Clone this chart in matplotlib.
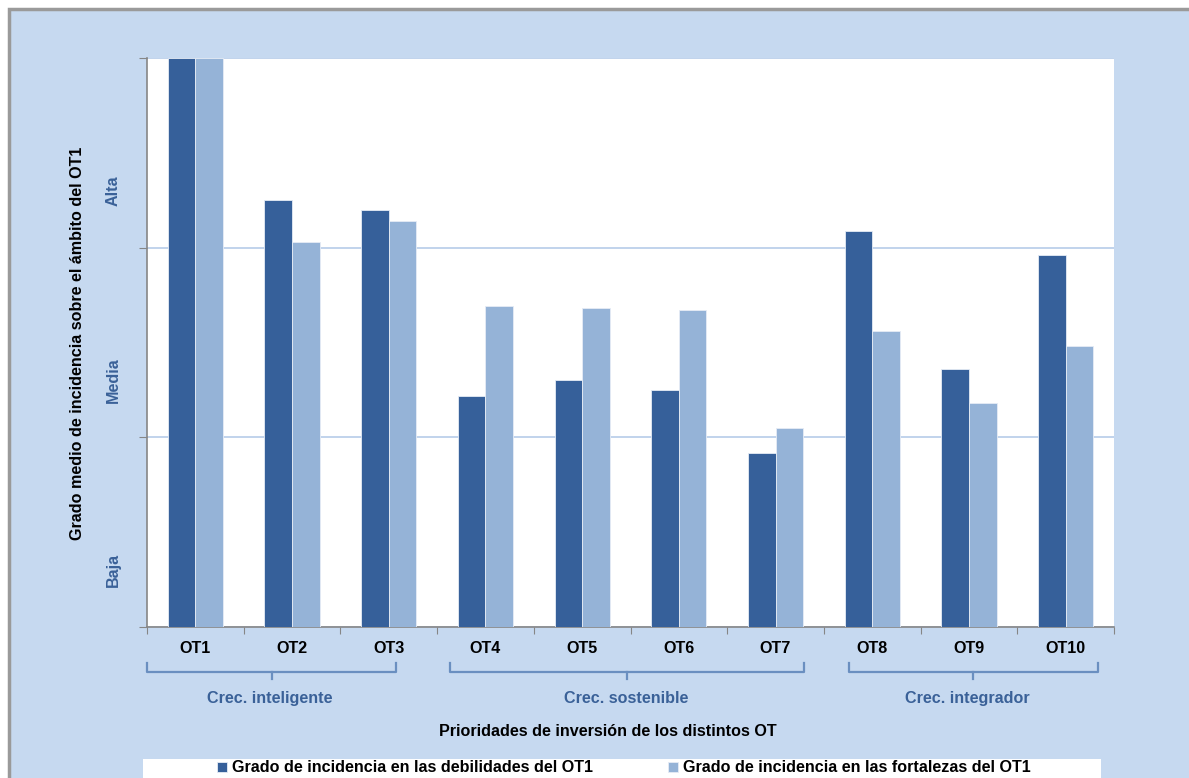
import matplotlib.pyplot as plt
import matplotlib.transforms as mtransforms
from matplotlib.patches import Rectangle
import numpy as np

plt.rcParams['font.family'] = ['Liberation Sans', 'DejaVu Sans']
plt.rcParams['font.weight'] = 'bold'

# datos
categorias = ['OT1', 'OT2', 'OT3', 'OT4', 'OT5', 'OT6', 'OT7', 'OT8', 'OT9', 'OT10']
debilidades = [3.00, 2.25, 2.20, 1.22, 1.30, 1.25, 0.92, 2.09, 1.36, 1.96]
fortalezas = [3.00, 2.03, 2.14, 1.69, 1.68, 1.67, 1.05, 1.56, 1.18, 1.48]
niveles = ['Baja', 'Media', 'Alta']
grupos = ['Crec. inteligente', 'Crec. sostenible', 'Crec. integrador']
serie_nombres = ['Grado de incidencia en las debilidades del OT1',
                 'Grado de incidencia en las fortalezas del OT1']

oscuro = '#36609A'
claro = '#95B3D7'
fondo = '#C6D9F0'
azul_txt = '#3A6198'
fs = 11.6

W, H = 1189, 778
fig = plt.figure(figsize=(W / 100, H / 100), dpi=100, facecolor='white')

# fondo del grafico con borde gris
fig.patches.append(Rectangle((9 / W, -0.1), 1.2, 1.1 - 9 / H, transform=fig.transFigure,
                             facecolor=fondo, edgecolor='#9A9A9A', lw=2.5, zorder=-2))
# caja blanca de la leyenda
fig.patches.append(Rectangle((143 / W, -0.05), (1101 - 143) / W, 0.05 + 1 - 759 / H,
                             transform=fig.transFigure, facecolor='white',
                             edgecolor='none', zorder=-1))

ax = fig.add_axes([147 / W, 1 - 627 / H, (1114 - 147) / W, (627 - 58) / H])
ax.set_zorder(1)
ax.set_facecolor('white')

x = np.arange(len(categorias))
bw = 0.285
ax.bar(x - bw / 2, debilidades, bw, color=oscuro, edgecolor='#E6ECF5', lw=0.6,
       label=serie_nombres[0], zorder=3)
ax.bar(x + bw / 2, fortalezas, bw, color=claro, edgecolor='#E6ECF5', lw=0.6,
       label=serie_nombres[1], zorder=3)

ax.set_xlim(-0.5, len(categorias) - 0.5)
ax.set_ylim(0, 3)

# eje y: marcas en 0..3, etiquetas cualitativas entre ellas
ax.set_yticks([0, 1, 2, 3])
ax.set_yticklabels([])
ax.set_yticks([0.3, 1.3, 2.3], minor=True)
ax.set_yticklabels(niveles, minor=True, rotation=90, va='center', fontsize=fs,
                   color=azul_txt, fontweight='bold')
ax.tick_params(axis='y', which='major', length=6, color='#868686', direction='out')
ax.tick_params(axis='y', which='minor', length=0, pad=19)
ax.grid(axis='y', which='major', color='#BCD0EA', lw=1.3, zorder=0)

# eje x
ax.set_xticks(np.arange(-0.5, len(categorias), 1.0))
ax.set_xticklabels([])
ax.set_xticks(x, minor=True)
ax.set_xticklabels(categorias, minor=True, fontsize=fs, fontweight='bold')
ax.tick_params(axis='x', which='major', length=5, color='#868686', direction='out')
ax.tick_params(axis='x', which='minor', length=0, pad=10)

for s in ['top', 'right']:
    ax.spines[s].set_visible(False)
for s in ['left', 'bottom']:
    ax.spines[s].set_color('#868686')
    ax.spines[s].set_linewidth(1.2)

# llaves de agrupacion
trans = mtransforms.blended_transform_factory(ax.transData, ax.transAxes)
llaves = [(-0.5, 2.08, 0.79), (2.63, 6.29, 4.46), (6.76, 9.33, 8.04)]
etq_x = [0.77, 4.46, 7.98]
y_top, y_mid, y_bot = -0.063, -0.079, -0.091
for (a, b, c), nombre, tx in zip(llaves, grupos, etq_x):
    ax.plot([a, a, b, b], [y_top, y_mid, y_mid, y_top], color='#6A8FC0', lw=1.6,
            transform=trans, clip_on=False, solid_joinstyle='round')
    ax.plot([c, c], [y_mid, y_bot], color='#6A8FC0', lw=1.6, transform=trans, clip_on=False)
    ax.text(tx, -0.125, nombre, transform=trans, ha='center', va='center',
            fontsize=fs, color=azul_txt, fontweight='bold')

fig.text(608 / W, 1 - 731 / H, 'Prioridades de inversión de los distintos OT',
         ha='center', va='center', fontsize=fs, fontweight='bold')
fig.text(77.5 / W, 1 - 343 / H, 'Grado medio de incidencia sobre el ámbito del OT1',
         rotation=90, ha='center', va='center', fontsize=fs, fontweight='bold')

fig.legend(loc='center', bbox_to_anchor=(624 / W, 1 - 768 / H), ncol=2, frameon=False,
           fontsize=fs, handlelength=0.6, handleheight=0.6, handletextpad=0.3,
           columnspacing=4.7)

fig.savefig('out.png', dpi=100, facecolor='white')
